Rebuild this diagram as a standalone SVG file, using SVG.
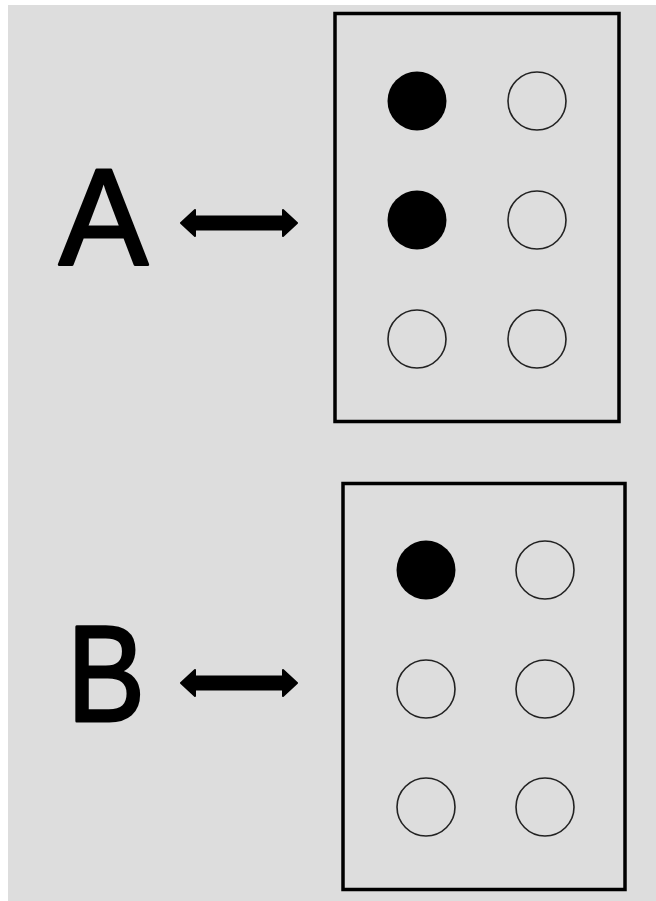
<svg xmlns="http://www.w3.org/2000/svg" width="656" height="901" viewBox="0 0 656 901">
<style>
.box{fill:none;stroke:#000;stroke-width:3.5}
.dot{fill:#000}
.hole{fill:none;stroke:#222;stroke-width:1.6}
.lbl{font-family:"Liberation Sans",Arial,sans-serif;font-size:138px;fill:#000;stroke:#000;stroke-width:3;stroke-linejoin:round}
.arr{fill:#000;stroke:#000;stroke-width:2;stroke-linejoin:round}
</style>
<rect x="0" y="0" width="656" height="901" fill="#ffffff"/>
<rect x="8" y="5" width="648" height="896" fill="#dddddd"/>
<g id="labelA"><text class="lbl" x="59" y="265" textLength="89" lengthAdjust="spacingAndGlyphs">A</text></g>
<g id="labelB"><text class="lbl" x="67" y="721" textLength="78" lengthAdjust="spacingAndGlyphs">B</text></g>
<g id="cellA">
<rect class="box" x="335" y="13.5" width="284" height="408"/>
<circle class="dot" cx="417" cy="101" r="29.5"/>
<circle class="hole" cx="537" cy="101" r="29"/>
<circle class="dot" cx="417" cy="220" r="29.5"/>
<circle class="hole" cx="537" cy="220" r="29"/>
<circle class="hole" cx="417" cy="339" r="29"/>
<circle class="hole" cx="537" cy="339" r="29"/>
</g>
<g id="cellB">
<rect class="box" x="343" y="483.5" width="282" height="406"/>
<circle class="dot" cx="426" cy="570" r="29.5"/>
<circle class="hole" cx="545" cy="570" r="29"/>
<circle class="hole" cx="426" cy="689" r="29"/>
<circle class="hole" cx="545" cy="689" r="29"/>
<circle class="hole" cx="426" cy="807" r="29"/>
<circle class="hole" cx="545" cy="807" r="29"/>
</g>
<g id="connectors">
<path class="arr" d="M181 223 L195 210 L195 216.5 L283 216.5 L283 210 L297 223 L283 236 L283 229.5 L195 229.5 L195 236 Z"/>
<path class="arr" d="M181 683 L195 670 L195 676.5 L283 676.5 L283 670 L297 683 L283 696 L283 689.5 L195 689.5 L195 696 Z"/>
</g>
</svg>
